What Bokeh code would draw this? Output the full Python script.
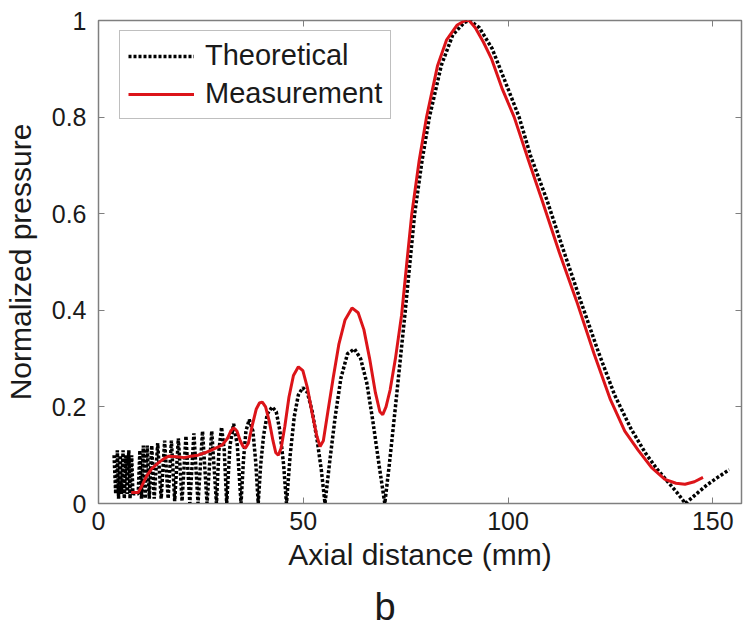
from bokeh.plotting import figure
from bokeh.models import Range1d, FixedTicker, LinearAxis, Legend, LegendItem, Title
from bokeh.embed import file_html
from bokeh.resources import INLINE

# Theoretical axial pressure
theory_x = [3.8, 4.2, 4.6, 4.9, 5.3, 5.6, 6.0, 6.3, 6.7, 7.0, 7.4, 7.7, 8.1, 8.4, 9.7,
            10.1, 10.5, 10.95, 11.4, 11.9, 12.4, 13.0, 13.6, 14.45, 15.3, 16.15, 17.0,
            17.8, 18.6, 19.5, 20.4, 21.35, 22.3, 23.3, 24.3, 25.4, 26.5, 27.65, 28.8,
            29.4, 30.05, 30.7, 31.3, 32.1, 33.0, 33.9, 34.8, 35.4, 36.0, 36.8, 37.7,
            38.4, 39.0, 39.6, 40.3, 41.2, 42.4, 43.4, 44.3, 45.2, 45.9, 46.8, 47.8,
            48.8, 49.9, 51.0, 52.2, 53.4, 54.4, 55.3, 56.5, 57.8, 59.2, 60.8, 62.5,
            64.0, 65.5, 67.0, 68.5, 69.9, 71.0, 72.5, 74.8, 77.2, 79.0, 80.8, 83.7,
            86.5, 89.3, 90.7, 93.0, 96.1, 99.0, 102.7, 105.5, 109.5, 113.5, 117.7,
            122.0, 126.0, 130.0, 133.5, 136.5, 139.0, 141.5, 143.3, 146.0, 148.5,
            151.0, 154.0]
theory_y = [0.10, 0.02, 0.11, 0.01, 0.10, 0.02, 0.11, 0.01, 0.10, 0.02, 0.11, 0.01, 0.10, 0.02, 0.02,
            0.11, 0.01, 0.12, 0.01, 0.12, 0.01, 0.12, 0.01, 0.125, 0.01, 0.13, 0.01,
            0.13, 0.005, 0.135, 0.005, 0.14, 0.0, 0.145, 0.0, 0.15, 0.0, 0.15, 0.0,
            0.11, 0.158, 0.11, 0.0, 0.12, 0.165, 0.12, 0.0, 0.09, 0.15, 0.174, 0.15,
            0.085, 0.0, 0.08, 0.14, 0.185, 0.20, 0.19, 0.15, 0.08, 0.0, 0.10, 0.18,
            0.225, 0.24, 0.23, 0.19, 0.13, 0.07, 0.0, 0.09, 0.18, 0.26, 0.31, 0.32,
            0.30, 0.25, 0.17, 0.08, 0.0, 0.08, 0.20, 0.39, 0.60, 0.71, 0.80, 0.907,
            0.97, 0.996, 1.0, 0.985, 0.942, 0.88, 0.80, 0.72, 0.628, 0.525, 0.42,
            0.315, 0.225, 0.155, 0.105, 0.07, 0.045, 0.02, 0.0, 0.02, 0.038,
            0.053, 0.07]

meas_x = [8.0, 9.7, 10.5, 11.7, 13.0, 14.6, 16.0, 17.2, 19.0, 20.9, 22.5, 24.3, 26.0,
          27.4, 29.0, 30.3, 31.5, 32.3, 33.0, 33.8, 34.6, 35.3, 35.9, 36.6, 37.5,
          38.5, 39.3, 40.0, 40.8, 41.7, 42.6, 43.3, 43.9, 44.6, 45.5, 46.5, 47.6,
          48.8, 49.9, 51.0, 52.2, 53.3, 54.1, 54.9, 56.0, 57.3, 58.7, 60.2, 61.9,
          63.4, 64.8, 66.2, 67.6, 68.7, 69.4, 70.2, 71.2, 72.5, 74.0, 75.3, 76.5,
          78.3, 80.1, 82.8, 85.0, 87.5, 89.5, 90.5, 92.0, 94.0, 96.0, 98.5, 101.5,
          105.0, 108.3, 112.5, 116.7, 121.0, 125.0, 128.5, 131.8, 135.0, 138.3,
          141.0, 143.2, 145.5, 147.6]
meas_y = [0.023, 0.023, 0.035, 0.056, 0.072, 0.084, 0.093, 0.098, 0.097, 0.095, 0.098, 0.10, 0.105,
          0.11, 0.116, 0.122, 0.135, 0.15, 0.157, 0.15, 0.13, 0.118, 0.115, 0.125, 0.16,
          0.195, 0.208, 0.21, 0.20, 0.17, 0.13, 0.105, 0.10, 0.115, 0.16, 0.22, 0.265,
          0.283, 0.275, 0.24, 0.185, 0.14, 0.118, 0.13, 0.19, 0.26, 0.33, 0.38, 0.405,
          0.395, 0.36, 0.30, 0.23, 0.19, 0.184, 0.20, 0.235, 0.30, 0.39, 0.50, 0.60,
          0.71, 0.80, 0.907, 0.96, 0.99, 1.0, 1.0, 0.985, 0.955, 0.92, 0.86, 0.80,
          0.71, 0.628, 0.52, 0.42, 0.31, 0.215, 0.15, 0.11, 0.075, 0.05,
          0.042, 0.04, 0.045, 0.054]

x_ticks = [0, 50, 100, 150]
y_ticks = [0, 0.2, 0.4, 0.6, 0.8, 1]
y_tick_labels = ["0", "0.2", "0.4", "0.6", "0.8", "1"]

FONT = "Liberation Sans"
TXT = "#1a1a1a"
AX = "#7f7f7f"

p = figure(width=754, height=637, x_range=Range1d(0, 157), y_range=Range1d(0, 1),
           output_backend="svg", toolbar_location=None,
           min_border_left=97, min_border_right=13, min_border_top=20, min_border_bottom=133)
p.background_fill_color = "white"
p.border_fill_color = "white"
p.outline_line_color = AX
p.outline_line_width = 1.5
p.xgrid.visible = False
p.ygrid.visible = False

for ax in (p.xaxis[0], p.yaxis[0]):
    ax.axis_line_color = AX
    ax.major_tick_line_color = AX
    ax.major_tick_in = 6
    ax.major_tick_out = 0
    ax.minor_tick_line_color = None
    ax.major_label_text_font = FONT
    ax.major_label_text_font_size = "25px"
    ax.major_label_text_color = TXT
    ax.axis_label_text_font = FONT
    ax.axis_label_text_font_size = "30px"
    ax.axis_label_text_font_style = "normal"
    ax.axis_label_text_color = TXT

p.xaxis[0].ticker = FixedTicker(ticks=x_ticks)
p.yaxis[0].ticker = FixedTicker(ticks=y_ticks)
p.yaxis[0].major_label_overrides = {t: s for t, s in zip(y_ticks, y_tick_labels)}
p.xaxis[0].axis_label = "Axial distance (mm)"
p.yaxis[0].axis_label = "Normalized pressure"
p.xaxis[0].major_label_standoff = 8
p.yaxis[0].major_label_standoff = 12
p.xaxis[0].axis_label_standoff = 5
p.yaxis[0].axis_label_standoff = 12

top_ax = LinearAxis(ticker=FixedTicker(ticks=x_ticks), major_label_text_font_size="1px",
                    major_label_text_color=None,
                    axis_line_color=None, major_tick_line_color=AX, major_tick_in=6,
                    major_tick_out=0, minor_tick_line_color=None, major_label_standoff=0)
right_ax = LinearAxis(ticker=FixedTicker(ticks=y_ticks), major_label_text_font_size="1px",
                      major_label_text_color=None,
                      axis_line_color=None, major_tick_line_color=AX, major_tick_in=6,
                      major_tick_out=0, minor_tick_line_color=None, major_label_standoff=0)
p.add_layout(top_ax, "above")
p.add_layout(right_ax, "right")

r_theory = p.line(theory_x, theory_y, line_color="black", line_width=3.5, line_dash="3 2")
r_meas = p.line(meas_x, meas_y, line_color="#dc1419", line_width=3)

legend = Legend(items=[LegendItem(label="Theoretical", renderers=[r_theory]),
                       LegendItem(label="Measurement", renderers=[r_meas])],
                location=(21, 384))
legend.label_text_font = FONT
legend.label_text_font_size = "29px"
legend.label_text_color = TXT
legend.glyph_width = 66
legend.glyph_height = 30
legend.label_height = 30
legend.label_standoff = 11
legend.spacing = 5
legend.padding = 8
legend.margin = 0
legend.border_line_color = AX
legend.border_line_width = 1.5
legend.background_fill_color = "white"
p.add_layout(legend)

b_title = Title(text="b", align="left", offset=276, standoff=20, text_font=FONT,
                text_font_size="38px", text_font_style="normal", text_color=TXT)
p.add_layout(b_title, "below")

open("out.html", "w").write(file_html(p, INLINE))
